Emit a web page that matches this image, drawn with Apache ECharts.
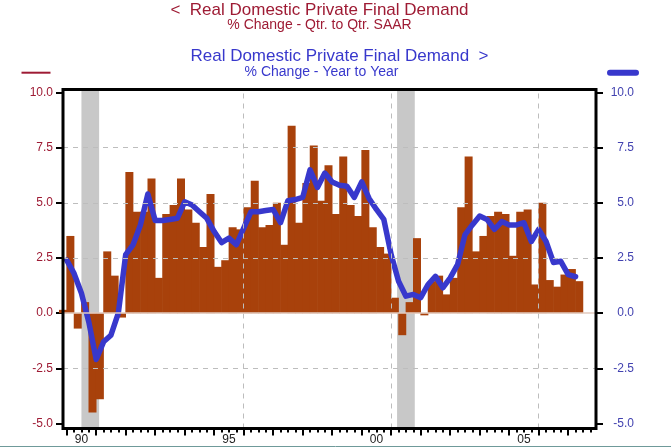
<!DOCTYPE html>
<html>
<head>
<meta charset="utf-8">
<script src="https://cdn.jsdelivr.net/npm/echarts@6/dist/echarts.min.js"></script>
<style>
  html, body { margin: 0; padding: 0; background: #fff; }
  #chart { width: 671px; height: 448px; }
</style>
</head>
<body>
<div id="chart"></div>
<script>
// quarter-to-quarter SAAR (bars), first value is 1989Q4
var qoqStart = [1989, 4];
var qoq = [
  0.15,
  3.5, -0.7, 0.5, -4.5,     // 1990
  -3.9, 2.8, 1.7, -0.2,     // 1991
  6.4, 4.6, 4.6, 6.1,       // 1992
  1.6, 4.5, 4.9, 6.1,       // 1993
  4.7, 4.1, 3.0, 5.4,       // 1994
  2.1, 2.4, 3.9, 3.8,       // 1995
  4.8, 6.0, 3.9, 4.0,       // 1996
  5.0, 3.1, 8.5, 4.1,       // 1997
  5.9, 7.6, 5.1, 6.7,       // 1998
  4.5, 7.1, 4.9, 4.4,       // 1999
  7.4, 3.9, 3.0, 2.7,       // 2000
  0.7, -1.0, 0.5, 3.4,      // 2001
  -0.1, 1.45, 1.7, 0.85,    // 2002
  1.6, 4.8, 7.1, 2.8,       // 2003
  3.5, 4.4, 4.6, 4.5,       // 2004
  2.6, 4.6, 4.7, 1.3,       // 2005
  5.0, 1.5, 1.2, 1.75,      // 2006
  2.0, 1.45                 // 2007
];

// year-to-year % change (line), first value is 1990Q1
var yoyStart = [1990, 1];
var yoy = [
  2.4, 1.8, 0.9, -0.4,      // 1990
  -2.1, -1.3, -1.0, 0.0,    // 1991
  2.65, 3.1, 4.0, 5.4,      // 1992
  4.2, 4.2, 4.25, 4.3,      // 1993
  5.05, 4.9, 4.6, 4.3,      // 1994
  3.7, 3.2, 3.4, 3.1,       // 1995
  3.85, 4.6, 4.6, 4.65,     // 1996
  4.7, 4.1, 5.1, 5.15,      // 1997
  5.25, 6.5, 5.7, 6.35,     // 1998
  5.95, 5.8, 5.75, 5.25,    // 1999
  5.95, 5.2, 4.7, 4.25,     // 2000
  2.65, 1.45, 0.77, 0.85,   // 2001
  0.7, 1.3, 1.67, 1.15,     // 2002
  1.6, 2.2, 3.55, 4.0,      // 2003
  4.4, 4.25, 3.8, 4.15,     // 2004
  4.0, 4.0, 4.1, 3.25,      // 2005
  3.8, 3.25, 2.3, 2.35,     // 2006
  1.75, 1.65                // 2007
];

// recessions (decimal years) and axis ticks
var recessions = [[1990.5, 1991.1], [2001.2, 2001.8]];
var yTicks = [-5, -2.5, 0, 2.5, 5, 7.5, 10];
var yGrid = [-2.5, 2.5, 5, 7.5];
var xGridYears = [1996, 2001, 2006];
var xLabelYears = [1990, 1995, 2000, 2005];
var xLabels = ['90', '95', '00', '05'];

var X_MIN = 1989.875, X_MAX = 2007.943;
var RED = '#9E1B34', BLUE = '#3838CC';

function qStart(start, i) {
  return start[0] + (start[1] - 1) / 4 + i * 0.25;
}

var barData = qoq.map(function (v, i) { return [qStart(qoqStart, i) + 0.125, v]; });
var lineData = yoy.map(function (v, i) { return [qStart(yoyStart, i), v]; });

var quarterTicks = [], yearTicks = [];
for (var y = 1990; y <= 2007; y++) {
  yearTicks.push(y);
  for (var q = 0; q < 4; q++) quarterTicks.push(y + q * 0.25);
}
var labelPos = xLabelYears.map(function (y) { return y + 0.5; });

var chart = echarts.init(document.getElementById('chart'));
var option = {
  animation: false,
  backgroundColor: '#fff',
  grid: { left: 63, top: 89.5, width: 533, height: 339, outerBoundsMode: 'none' },
  xAxis: [
    {
      type: 'value', min: X_MIN, max: X_MAX, position: 'bottom',
      axisLine: { show: false, onZero: false },
      splitLine: { show: false },
      axisTick: { show: true, customValues: quarterTicks, length: 4, lineStyle: { color: '#000', width: 2 } },
      axisLabel: {
        customValues: labelPos, margin: 5, color: '#222', fontSize: 12,
        fontFamily: 'Liberation Sans, Arial, sans-serif',
        formatter: function (v) { return xLabels[labelPos.indexOf(v)] || ''; }
      }
    },
    {
      type: 'value', min: X_MIN, max: X_MAX, position: 'bottom',
      axisLine: { show: false, onZero: false },
      splitLine: { show: false },
      axisTick: { show: true, customValues: yearTicks, length: 7, lineStyle: { color: '#000', width: 2 } },
      axisLabel: { show: false }
    }
  ],
  yAxis: [
    {
      type: 'value', min: -5.23, max: 10.14, position: 'left',
      axisLine: { show: false, onZero: false },
      splitLine: { show: false },
      axisTick: { show: true, customValues: yTicks, length: 7, lineStyle: { color: '#000', width: 2 } },
      axisLabel: {
        customValues: yTicks, margin: 10, color: RED, fontSize: 12,
        fontFamily: 'Liberation Sans, Arial, sans-serif',
        formatter: function (v) { return v.toFixed(1); }
      }
    },
    {
      type: 'value', min: -5.23, max: 10.14, position: 'right',
      axisLine: { show: false, onZero: false },
      splitLine: { show: false },
      axisTick: { show: true, customValues: yTicks, length: 7, lineStyle: { color: '#000', width: 2 } },
      axisLabel: {
        customValues: yTicks, margin: 38, align: 'right', color: '#4242B0', fontSize: 12,
        fontFamily: 'Liberation Sans, Arial, sans-serif',
        formatter: function (v) { return v.toFixed(1); }
      }
    }
  ],
  series: [
    // recession shading and dashed grid
    {
      type: 'line', data: [], z: 1, silent: true,
      markArea: {
        silent: true,
        itemStyle: { color: '#C8C8C8' },
        data: recessions.map(function (r) { return [{ xAxis: r[0] }, { xAxis: r[1] }]; })
      },
      markLine: {
        silent: true, symbol: 'none', label: { show: false },
        lineStyle: { color: '#BDBDBD', type: [5, 5], width: 1 },
        data: yGrid.map(function (v) { return { yAxis: v }; })
          .concat(xGridYears.map(function (v) { return { xAxis: v }; }))
      }
    },
    {
      name: 'Qtr. to Qtr. SAAR',
      type: 'bar', data: barData, barWidth: 8, z: 2,
      itemStyle: { color: '#A8410B' }
    },
    // zero line
    {
      type: 'line', data: [], z: 3, silent: true,
      markLine: {
        silent: true, symbol: 'none', label: { show: false },
        lineStyle: { color: '#E2CABE', type: 'solid', width: 1.5 },
        data: [{ yAxis: 0 }]
      }
    },
    {
      name: 'Year to Year',
      type: 'line', data: lineData, z: 4, symbol: 'none',
      lineStyle: { color: BLUE, width: 5.5, join: 'round', cap: 'round' }
    }
  ],
  graphic: [
    { type: 'rect', z: 100, silent: true,
      shape: { x: 63, y: 89.5, width: 533, height: 339 },
      style: { fill: null, stroke: '#000', lineWidth: 3 } },
    { type: 'text', silent: true,
      style: { text: '<  Real Domestic Private Final Demand', x: 319.5, y: 10, textAlign: 'center', textVerticalAlign: 'middle',
               font: '17px "Liberation Sans", Arial, sans-serif', fill: RED } },
    { type: 'text', silent: true,
      style: { text: '% Change - Qtr. to Qtr. SAAR', x: 319.5, y: 25.5, textAlign: 'center', textVerticalAlign: 'middle',
               font: '14px "Liberation Sans", Arial, sans-serif', fill: RED } },
    { type: 'text', silent: true,
      style: { text: 'Real Domestic Private Final Demand  >', x: 339.5, y: 56.5, textAlign: 'center', textVerticalAlign: 'middle',
               font: '17px "Liberation Sans", Arial, sans-serif', fill: BLUE } },
    { type: 'text', silent: true,
      style: { text: '% Change - Year to Year', x: 321.5, y: 72, textAlign: 'center', textVerticalAlign: 'middle',
               font: '14px "Liberation Sans", Arial, sans-serif', fill: BLUE } },
    { type: 'line', silent: true,
      shape: { x1: 21.5, y1: 72.7, x2: 50.5, y2: 72.7 },
      style: { stroke: RED, lineWidth: 2 } },
    { type: 'line', silent: true,
      shape: { x1: 610, y1: 72.7, x2: 636, y2: 72.7 },
      style: { stroke: BLUE, lineWidth: 6, lineCap: 'round' } },
    { type: 'line', silent: true,
      shape: { x1: 0, y1: 446.5, x2: 671, y2: 446.5 },
      style: { stroke: '#6f9a9a', lineWidth: 1 } }
  ]
};
chart.setOption(option);
</script>
</body>
</html>
